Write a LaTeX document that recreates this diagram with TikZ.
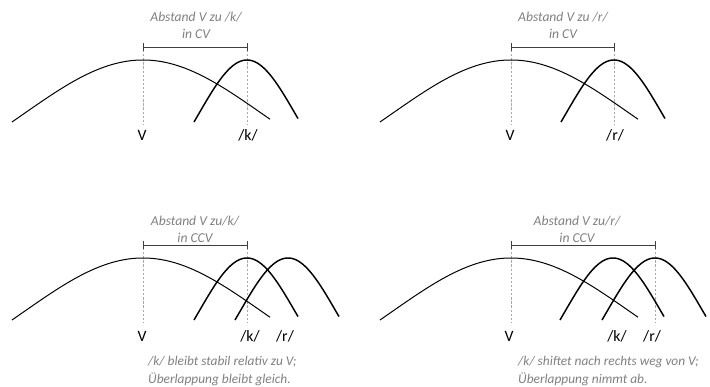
\documentclass[tikz,border=0pt]{standalone}
\usepackage{fontspec}
\setmainfont{Carlito}
\definecolor{txtgray}{HTML}{808080}
\definecolor{dashgray}{HTML}{A8A8A8}
\definecolor{brgray}{HTML}{404040}
\tikzset{
  vcurve/.style={line width=0.85pt, black},
  ccurve/.style={line width=1.25pt, black},
  guide/.style={dashgray, line width=0.5pt, dash pattern=on 2pt off 1.5pt},
  bracket/.style={brgray, line width=0.6pt},
  note/.style={txtgray, font=\fontsize{11.6}{14.5}\selectfont\itshape, align=center, inner sep=0pt},
  caption/.style={txtgray, font=\fontsize{11.4}{15.4}\selectfont\itshape, align=left, inner sep=0pt, anchor=west},
  lab/.style={black, font=\fontsize{13.5}{15}\selectfont, inner sep=0pt}
}
% \vbell{peak x}{peak y}
\newcommand\vbell[2]{\draw[vcurve] plot[domain=-131:127, samples=80, smooth] ({#1+\x},{#2+136.6*(1-exp(-(\x/100)*(\x/100)/2.837))});}
% \cbell{peak x}{peak y}
\newcommand\cbell[2]{\draw[ccurve] plot[domain=-53:51, samples=60, smooth] ({#1+\x},{#2+136.6*(1-exp(-(\x/100)*(\x/100)/0.4643))});}
\begin{document}
\begin{tikzpicture}[x=0.03cm,y=-0.03cm]
\useasboundingbox (0,0) rectangle (710,386);

% ---------- Panel 1 ----------
\coordinate (p1v) at (143,47);
\coordinate (p1k) at (247,47);
\draw[guide] (143,50) -- (143,124);
\draw[guide] (247,50) -- (247,124);
\vbell{143}{60}
\cbell{247}{60}
\draw[bracket] (p1v) -- (p1k);
\draw[bracket] ([yshift=-3.5]p1v) -- ([yshift=3.5]p1v);
\draw[bracket] ([yshift=-3.5]p1k) -- ([yshift=3.5]p1k);
\node[note] (n1) at (196,25.5) {Abstand V zu /k/\\in CV};
\node[lab] (l1v) at (142,135) {V};
\node[lab] (l1k) at (248,135) {/k/};

% ---------- Panel 2 ----------
\coordinate (p2v) at (511,47);
\coordinate (p2r) at (614,47);
\draw[guide] (511,50) -- (511,124);
\draw[guide] (614,50) -- (614,124);
\vbell{511}{60}
\cbell{614}{60}
\draw[bracket] (p2v) -- (p2r);
\draw[bracket] ([yshift=-3.5]p2v) -- ([yshift=3.5]p2v);
\draw[bracket] ([yshift=-3.5]p2r) -- ([yshift=3.5]p2r);
\node[note] (n2) at (563,25.5) {Abstand V zu /r/\\in CV};
\node[lab] (l2v) at (510,135) {V};
\node[lab] (l2r) at (615,135) {/r/};

% ---------- Panel 3 ----------
\coordinate (p3v) at (143,245);
\coordinate (p3k) at (247,245);
\draw[guide] (143,248) -- (143,323);
\draw[guide] (247,248) -- (247,323);
\vbell{143}{258}
\cbell{247}{258}
\cbell{288}{258}
\draw[bracket] (p3v) -- (p3k);
\draw[bracket] ([yshift=-3.5]p3v) -- ([yshift=3.5]p3v);
\draw[bracket] ([yshift=-3.5]p3k) -- ([yshift=3.5]p3k);
\node[note] (n3) at (195,229) {Abstand V zu/k/\\in CCV};
\node[lab] (l3v) at (142,336) {V};
\node[lab] (l3k) at (250,336) {/k/};
\node[lab] (l3r) at (285,336) {/r/};
\node[caption] (c3) at (148,371) {/k/ bleibt stabil relativ zu V;\\Überlappung bleibt gleich.};

% ---------- Panel 4 ----------
\coordinate (p4v) at (511,245);
\coordinate (p4r) at (655,245);
\draw[guide] (511,248) -- (511,323);
\draw[guide] (655,248) -- (655,323);
\vbell{511}{258}
\cbell{613}{258}
\cbell{655}{258}
\draw[bracket] (p4v) -- (p4r);
\draw[bracket] ([yshift=-3.5]p4v) -- ([yshift=3.5]p4v);
\draw[bracket] ([yshift=-3.5]p4r) -- ([yshift=3.5]p4r);
\node[note] (n4) at (577,229) {Abstand V zu/r/\\in CCV};
\node[lab] (l4v) at (509,336) {V};
\node[lab] (l4k) at (617,336) {/k/};
\node[lab] (l4r) at (652,336) {/r/};
\node[caption] (c4) at (518,371) {/k/ shiftet nach rechts weg von V;\\Überlappung nimmt ab.};
\end{tikzpicture}
\end{document}
